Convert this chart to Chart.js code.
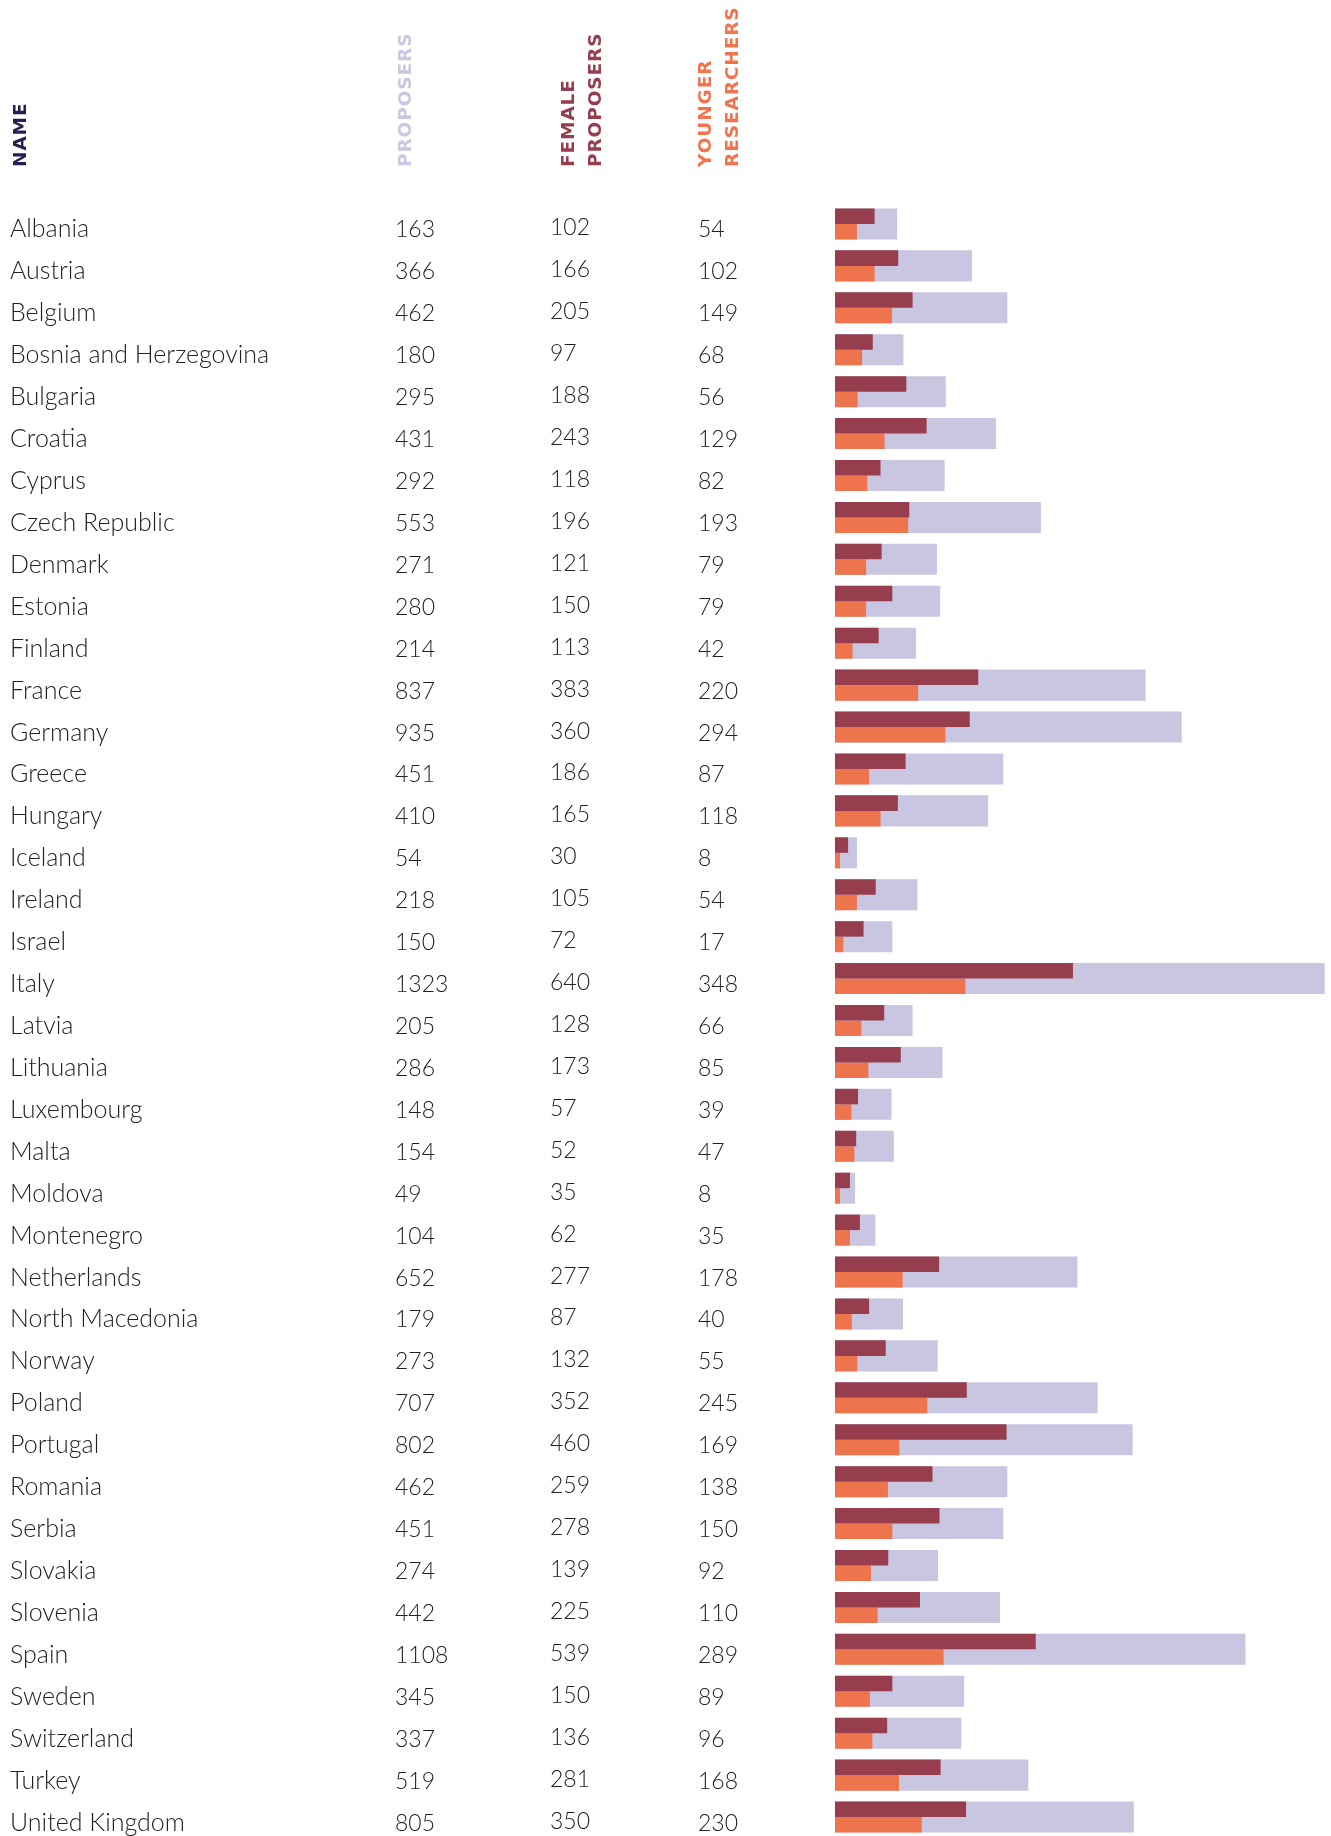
<!DOCTYPE html>
<html>
<head>
<meta charset="utf-8">
<script src="https://cdn.jsdelivr.net/npm/chart.js@4"></script>
<style>
  html, body { margin: 0; padding: 0; background: #fff; overflow: hidden; }
  #wrap { position: relative; width: 1331px; height: 1840px; }
</style>
</head>
<body>
<div id="wrap"><canvas id="chart"></canvas></div>
<script>
const countries = [
    'Albania', 'Austria', 'Belgium', 'Bosnia and Herzegovina', 'Bulgaria', 'Croatia', 'Cyprus',
    'Czech Republic', 'Denmark', 'Estonia', 'Finland', 'France', 'Germany', 'Greece', 'Hungary',
    'Iceland', 'Ireland', 'Israel', 'Italy', 'Latvia', 'Lithuania', 'Luxembourg', 'Malta', 'Moldova',
    'Montenegro', 'Netherlands', 'North Macedonia', 'Norway', 'Poland', 'Portugal', 'Romania',
    'Serbia', 'Slovakia', 'Slovenia', 'Spain', 'Sweden', 'Switzerland', 'Turkey', 'United Kingdom'
];
const proposers = [163, 366, 462, 180, 295, 431, 292, 553, 271, 280, 214, 837, 935, 451, 410,
    54, 218, 150, 1323, 205, 286, 148, 154, 49, 104, 652, 179, 273, 707, 802, 462,
    451, 274, 442, 1108, 345, 337, 519, 805];
const femaleProposers = [102, 166, 205, 97, 188, 243, 118, 196, 121, 150, 113, 383, 360, 186, 165,
    30, 105, 72, 640, 128, 173, 57, 52, 35, 62, 277, 87, 132, 352, 460, 259,
    278, 139, 225, 539, 150, 136, 281, 350];
const youngerResearchers = [54, 102, 149, 68, 56, 129, 82, 193, 79, 79, 42, 220, 294, 87, 118,
    8, 54, 17, 348, 66, 85, 39, 47, 8, 35, 178, 40, 55, 245, 169, 138,
    150, 92, 110, 289, 89, 96, 168, 230];

// x = baseline of the first line of each rotated header
const headers = [
    { lines: ['NAME'], x: 26, color: '#231f52' },
    { lines: ['PROPOSERS'], x: 411, color: '#cac7e3' },
    { lines: ['FEMALE', 'PROPOSERS'], x: 574, color: '#963e4e' },
    { lines: ['YOUNGER', 'RESEARCHERS'], x: 711, color: '#f0744e' }
];

const LAVENDER = '#c9c6e2';
const MAROON = '#963e4d';
const ORANGE = '#ee744d';

// table text drawn next to the bars, aligned on the y scale
const tablePlugin = {
    id: 'table',
    afterDraw(chart) {
        const ctx = chart.ctx;
        const yScale = chart.scales.y;
        ctx.save();
        ctx.textBaseline = 'alphabetic';
        ctx.textAlign = 'left';
        ctx.fillStyle = '#222';
        countries.forEach((name, i) => {
            const yc = yScale.getPixelForValue(i);
            ctx.font = '300 25px Lato, sans-serif';
            ctx.fillText(name, 10, yc + 13.5);
            ctx.font = '300 23px Lato, sans-serif';
            ctx.fillText(String(proposers[i]), 395, yc + 13.5);
            ctx.fillText(String(femaleProposers[i]), 550, yc + 11.5);
            ctx.fillText(String(youngerResearchers[i]), 698, yc + 13.5);
        });

        // rotated column headers
        ctx.font = 'bold 18.5px "DejaVu Sans", sans-serif';
        ctx.letterSpacing = '0.9px';
        headers.forEach(h => {
            ctx.fillStyle = h.color;
            h.lines.forEach((line, j) => {
                ctx.save();
                ctx.translate(h.x + j * 27, 167);
                ctx.rotate(-Math.PI / 2);
                ctx.fillText(line, 0, 0);
                ctx.restore();
            });
        });
        ctx.restore();
    }
};

new Chart(document.getElementById('chart'), {
    type: 'bar',
    data: {
        labels: countries,
        datasets: [
            {
                label: 'Proposers',
                data: proposers,
                backgroundColor: LAVENDER,
                grouped: false,
                base: -5.5,
                order: 2,
                barPercentage: 1,
                categoryPercentage: 0.74
            },
            {
                label: 'Female proposers',
                data: femaleProposers,
                backgroundColor: MAROON,
                base: -5.5,
                order: 1,
                barPercentage: 1,
                categoryPercentage: 0.74
            },
            {
                label: 'Younger researchers',
                data: youngerResearchers,
                backgroundColor: ORANGE,
                base: -5.5,
                order: 1,
                barPercentage: 1,
                categoryPercentage: 0.74
            }
        ]
    },
    options: {
        indexAxis: 'y',
        responsive: true,
        maintainAspectRatio: false,
        animation: false,
        layout: { padding: { left: 835, right: 0, top: 203, bottom: 2 } },
        plugins: {
            legend: { display: false },
            tooltip: { enabled: false }
        },
        scales: {
            x: { display: false, min: -5.5, max: 1340 },
            y: { display: false }
        }
    },
    plugins: [tablePlugin]
});
</script>
</body>
</html>
